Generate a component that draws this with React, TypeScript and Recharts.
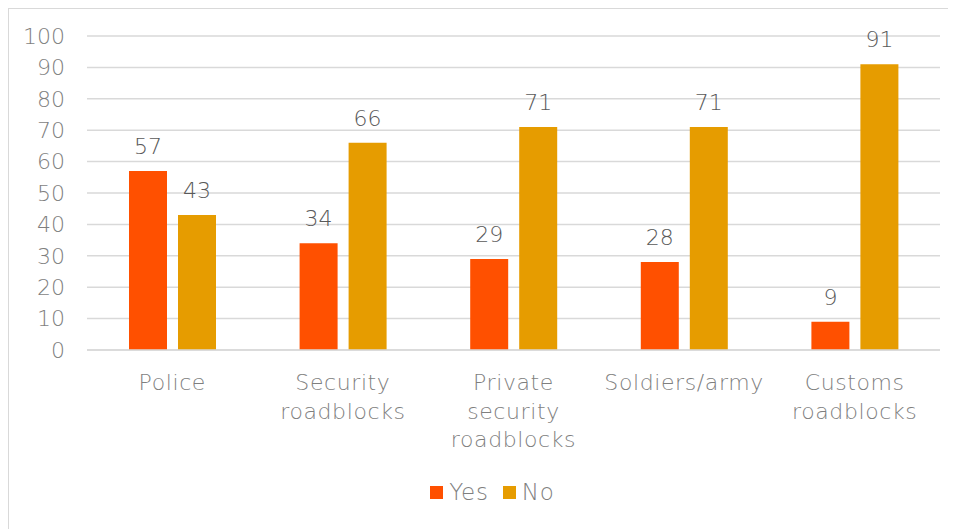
import { BarChart, Bar, XAxis, YAxis, CartesianGrid, Legend, LabelList } from "recharts";

const categories = ["Police", "Security roadblocks", "Private security roadblocks", "Soldiers/army", "Customs roadblocks"];
const yesValues = [57, 34, 29, 28, 9];
const noValues = [43, 66, 71, 71, 91];
const yTicks = [0, 10, 20, 30, 40, 50, 60, 70, 80, 90, 100];

const YES = "#ff5000";
const NO = "#e69c00";
const FONT = "'DejaVu Sans', sans-serif";

const data = categories.map((name, i) => ({ name, yes: yesValues[i], no: noValues[i] }));

function CategoryTick(props: any) {
  const { x, y, payload } = props;
  const lines = String(payload.value).split(" ");
  return (
    <text x={x} y={y} textAnchor="middle" fill="#7f7f7f" fontSize={22} fontWeight={200} fontFamily={FONT} letterSpacing={0.6}>
      {lines.map((l: string, i: number) => (
        <tspan key={i} x={x} dy={i === 0 ? 32 : 28.5}>{l}</tspan>
      ))}
    </text>
  );
}

function LegendBox() {
  const items = [{ label: "Yes", color: YES }, { label: "No", color: NO }];
  return (
    <div style={{ height: 30, display: "flex", justifyContent: "center", alignItems: "center", gap: 14, paddingLeft: 36, fontFamily: FONT, fontWeight: 200, fontSize: 23, letterSpacing: 0.8, color: "#7f7f7f" }}>
      {items.map(it => (
        <span key={it.label} style={{ display: "flex", alignItems: "center" }}>
          <span style={{ width: 13, height: 13, background: it.color, display: "inline-block", marginRight: 6 }} />
          {it.label}
        </span>
      ))}
    </div>
  );
}

export default function App() {
  return (
    <div style={{ width: 947, height: 520, borderTop: "1.5px solid #d9d9d9", borderLeft: "1.5px solid #d9d9d9", background: "#fff" }}>
      <BarChart width={947} height={520} data={data} margin={{ top: 27, right: 16, bottom: 22, left: 0 }} barSize={38} barGap={11}>
        <CartesianGrid vertical={false} stroke="#d9d9d9" strokeWidth={1.5} />
        <XAxis dataKey="name" axisLine={{ stroke: "#d9d9d9", strokeWidth: 1.5 }} tickLine={false} height={127} tick={<CategoryTick />} interval={0} />
        <YAxis domain={[0, 100]} ticks={yTicks} width={78} axisLine={false} tickLine={false} tickSize={0} tickMargin={22}
          tick={{ fill: "#7f7f7f", fontSize: 22, fontWeight: 200, fontFamily: FONT }} />
        <Legend verticalAlign="bottom" content={<LegendBox />} />
        <Bar dataKey="yes" name="Yes" fill={YES} isAnimationActive={false}>
          <LabelList dataKey="yes" position="top" offset={17} fill="#595959" fontSize={22} fontWeight={200} fontFamily={FONT} />
        </Bar>
        <Bar dataKey="no" name="No" fill={NO} isAnimationActive={false}>
          <LabelList dataKey="no" position="top" offset={17} fill="#595959" fontSize={22} fontWeight={200} fontFamily={FONT} />
        </Bar>
      </BarChart>
    </div>
  );
}
